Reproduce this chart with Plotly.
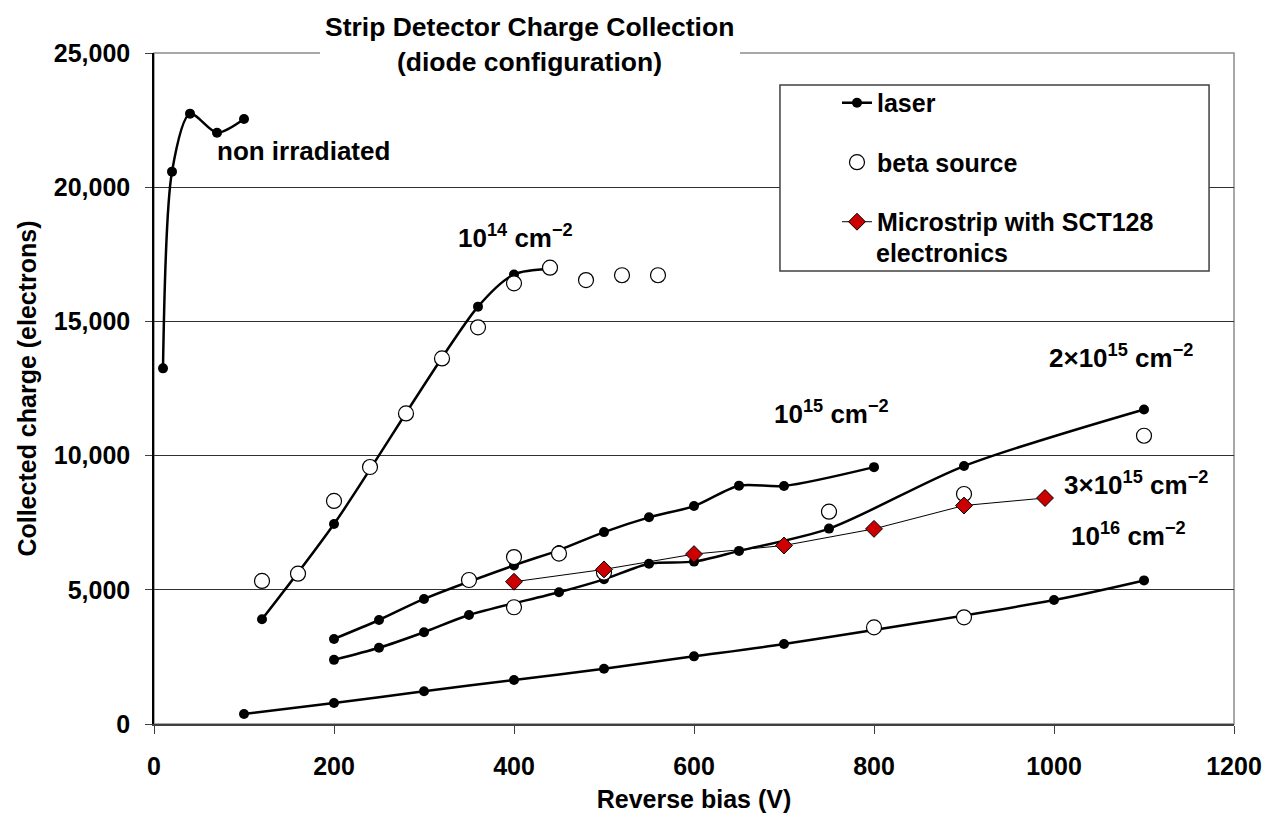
import plotly.graph_objects as go

# ---------------- data ----------------
# non irradiated, laser
non_irr_x = [10, 20, 40, 70, 100]
non_irr_y = [13250, 20580, 22740, 22030, 22540]

# 1e14 cm^-2
laser_e14_x = [120, 200, 360, 400, 440]
laser_e14_y = [3900, 7450, 15550, 16750, 16950]
beta_e14_x = [120, 160, 200, 240, 280, 320, 360, 400, 440, 480, 520, 560]
beta_e14_y = [5330, 5600, 8310, 9575, 11570, 13620, 14780, 16420, 17000, 16540, 16720, 16720]

# 1e15 cm^-2
laser_e15_x = [200, 250, 300, 400, 450, 500, 550, 600, 650, 700, 800]
laser_e15_y = [3170, 3875, 4660, 5910, 6480, 7150, 7700, 8120, 8880, 8870, 9570]
beta_e15_x = [350, 400, 450]
beta_e15_y = [5365, 6220, 6350]

# 2e15 cm^-2
laser_2e15_x = [200, 250, 300, 350, 450, 500, 550, 600, 650, 750, 900, 1100]
laser_2e15_y = [2390, 2840, 3420, 4060, 4910, 5390, 5970, 6050, 6450, 7280, 9610, 11720]
beta_2e15_x = [400, 500, 750, 900, 1100]
beta_2e15_y = [4350, 5640, 7910, 8570, 10740]

# 3e15 cm^-2, microstrip with SCT128 electronics
micro_x = [400, 500, 600, 700, 800, 900, 990]
micro_y = [5300, 5760, 6330, 6650, 7270, 8140, 8420]

# 1e16 cm^-2
laser_e16_x = [100, 200, 300, 400, 500, 600, 700, 1000, 1100]
laser_e16_y = [370, 780, 1220, 1640, 2060, 2520, 2980, 4620, 5350]
beta_e16_x = [800, 900]
beta_e16_y = [3600, 3975]

x_ticks = [0, 200, 400, 600, 800, 1000, 1200]
y_ticks = [0, 5000, 10000, 15000, 20000, 25000]

# label texts and anchor positions (data coords)
labels = [
    ("non irradiated", 68, 21350),
    ("10<sup>14</sup> cm<sup>\u22122</sup>", 336, 18150),
    ("10<sup>15</sup> cm<sup>\u22122</sup>", 687, 11600),
    ("2\u00d710<sup>15</sup> cm<sup>\u22122</sup>", 992, 13680),
    ("3\u00d710<sup>15</sup> cm<sup>\u22122</sup>", 1009, 8950),
    ("10<sup>16</sup> cm<sup>\u22122</sup>", 1017, 7050),
]

FONT = "Liberation Sans, Arial, sans-serif"

fig = go.Figure()

laser_series = [
    (non_irr_x, non_irr_y),
    (laser_e14_x, laser_e14_y),
    (laser_e15_x, laser_e15_y),
    (laser_2e15_x, laser_2e15_y),
    (laser_e16_x, laser_e16_y),
]
for i, (xs, ys) in enumerate(laser_series):
    fig.add_trace(go.Scatter(
        x=xs, y=ys, mode="lines+markers", name="laser",
        legendgroup="laser", showlegend=(i == 0),
        line=dict(color="black", width=2.5, shape="spline", smoothing=0.8),
        marker=dict(color="black", size=10, symbol="circle"),
    ))

beta_series = [
    (beta_e14_x, beta_e14_y),
    (beta_e15_x, beta_e15_y),
    (beta_2e15_x, beta_2e15_y),
    (beta_e16_x, beta_e16_y),
]
for i, (xs, ys) in enumerate(beta_series):
    fig.add_trace(go.Scatter(
        x=xs, y=ys, mode="markers", name="beta source",
        legendgroup="beta", showlegend=(i == 0),
        marker=dict(color="white", size=15, symbol="circle",
                    line=dict(color="black", width=1.2)),
    ))

fig.add_trace(go.Scatter(
    x=micro_x, y=micro_y, mode="lines+markers",
    name="Microstrip with SCT128", legendgroup="micro",
    line=dict(color="black", width=1),
    marker=dict(color="#CC0000", size=13, symbol="diamond",
                line=dict(color="black", width=1)),
))

for txt, lx, ly in labels:
    fig.add_annotation(x=lx, y=ly, xref="x", yref="y", text=txt,
                       showarrow=False, xanchor="left", yanchor="middle",
                       font=dict(size=26))

# Title (two lines)
fig.add_annotation(x=0.3481, y=1.0387, xref="paper", yref="paper",
                   text="Strip Detector Charge Collection", showarrow=False,
                   xanchor="center", yanchor="middle", font=dict(size=26.5))
fig.add_annotation(x=0.3481, y=0.9866, xref="paper", yref="paper",
                   text="(diode configuration)", showarrow=False,
                   xanchor="center", yanchor="middle", font=dict(size=26.5))

# legend continuation line
fig.add_annotation(x=0.6667, y=0.7019, xref="paper", yref="paper",
                   text="electronics", showarrow=False,
                   xanchor="left", yanchor="middle", font=dict(size=25))

shapes = [
    # plot frame (gray top/right)
    dict(type="rect", xref="paper", yref="paper", x0=0, y0=0, x1=1, y1=1,
         line=dict(color="#8c8c8c", width=1.5), layer="below"),
    # white box behind title (cuts the top border)
    dict(type="rect", xref="paper", yref="paper", x0=0.1537, x1=0.5426,
         y0=0.99, y1=1.07, line=dict(width=0), fillcolor="white", layer="above"),
    # legend box
    dict(type="rect", xref="paper", yref="paper", x0=0.5796, x1=0.9769,
         y0=0.6751, y1=0.9523, line=dict(color="#404040", width=1.5),
         fillcolor="white", layer="above"),
]

fig.update_layout(
    width=1266, height=818,
    margin=dict(l=154, r=32, t=53, b=94, pad=0, autoexpand=False),
    plot_bgcolor="white", paper_bgcolor="white",
    font=dict(family=FONT, size=25, color="black", weight="bold"),
    shapes=shapes,
    showlegend=True,
    legend=dict(x=0.6324, y=0.9598, xanchor="left", yanchor="top",
                bgcolor="rgba(0,0,0,0)", borderwidth=0,
                traceorder="grouped", tracegroupgap=24,
                font=dict(size=25, family=FONT, weight="bold")),
    xaxis=dict(range=[0, 1200], tickvals=x_ticks, ticktext=[str(v) for v in x_ticks],
               ticks="outside", ticklen=8, tickcolor="#404040", tickwidth=1.2,
               showgrid=False, zeroline=False, showline=True,
               linecolor="#404040", linewidth=1.5, automargin=False,
               tickfont=dict(size=25), ticklabelstandoff=11,
               title=dict(text="Reverse bias (V)", standoff=12, font=dict(size=25))),
    yaxis=dict(range=[0, 25000], tickvals=y_ticks, tickformat=",d",
               ticks="outside", ticklen=7, tickcolor="#404040", tickwidth=1.2,
               showgrid=True, gridcolor="#303030", gridwidth=1,
               zeroline=False, showline=True, linecolor="black", linewidth=1.5,
               automargin=False,
               tickfont=dict(size=25), ticklabelstandoff=10,
               title=dict(text="Collected charge (electrons)", standoff=10,
                          font=dict(size=25))),
)

fig.write_html("out.html")
